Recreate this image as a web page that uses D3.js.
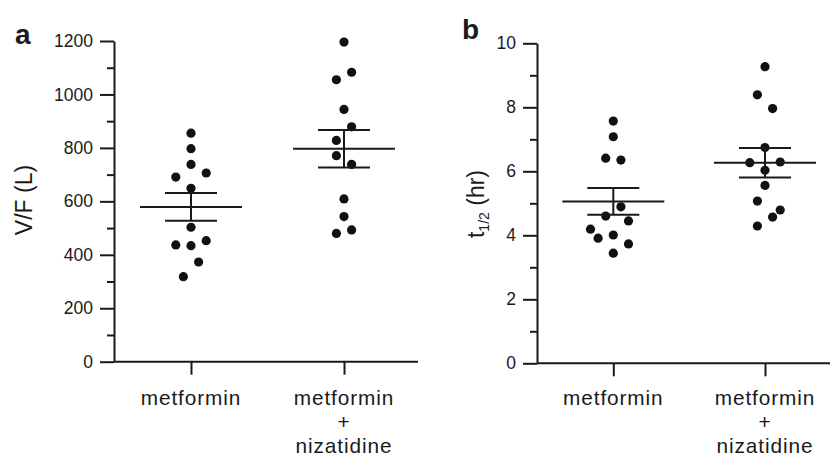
<!DOCTYPE html>
<meta charset="utf-8">
<script src="https://d3js.org/d3.v7.min.js"></script>
<style>
  body { margin: 0; background: #fff; }
  text { font-family: "Liberation Sans", Arial, sans-serif; fill: #1a1a1a; }
</style>
<div id="chart"></div>
<script>

// categories (each label is split over lines)
var categories = [["metformin"], ["metformin", "+", "nizatidine"]];

// panel a: V/F (L), individual subjects
var vfMetformin  = [855, 797, 738, 706, 691, 649, 503, 453, 437, 434, 373, 318];
var vfNizatidine = [1196, 1083, 1055, 944, 879, 828, 771, 738, 609, 543, 493, 480];
var vfMean = [579, 797];
var vfSem  = [52, 70];

// panel b: t1/2 (hr), individual subjects
var tMetformin  = [7.57, 7.08, 6.41, 6.35, 4.89, 4.60, 4.45, 4.19, 4.01, 3.91, 3.73, 3.44];
var tNizatidine = [9.27, 8.39, 7.96, 6.74, 6.29, 6.27, 6.03, 5.56, 5.07, 4.79, 4.57, 4.29];
var tMean = [5.06, 6.27];
var tSem  = [0.42, 0.46];

// dodge slot of each dot in the scatter (as in the figure)
var vfSlotsMet = [0, 0, 0, 2, -2, 0, 0, 2, -2, 0, 1, -1];
var vfSlotsNiz = [0, 1, -1, 0, 1, -1, -1, 1, 0, 0, 1, -1];
var tSlotsMet  = [0, 0, -1, 1, 1, -1, 2, -3, 0, -2, 2, 0];
var tSlotsNiz  = [0, -1, 1, 0, 2, -2, 0, 0, -1, 2, 1, -1];

var vfTicks = [0, 200, 400, 600, 800, 1000, 1200];
var vfMinor = [100, 300, 500, 700, 900, 1100];
var tTicks = [0, 2, 4, 6, 8, 10];
var tMinor = [1, 3, 5, 7, 9];

var W = 830, H = 458;
var svg = d3.select("#chart").append("svg")
    .attr("width", W).attr("height", H);

var slotStep = 7.6;

function panel(opt) {
  var g = svg.append("g");

  var y = d3.scaleLinear().domain(opt.domain).range([opt.y0, opt.y1]);
  var x = d3.scalePoint().domain([0, 1]).range(opt.xCats);

  // y axis, major ticks
  var ya = g.append("g")
      .attr("transform", "translate(" + opt.axisX + ",0)")
      .call(d3.axisLeft(y).tickValues(opt.ticks).tickFormat(d3.format("d"))
        .tickSize(14).tickPadding(7).tickSizeOuter(0));
  // y axis, minor ticks
  g.append("g")
      .attr("transform", "translate(" + opt.axisX + ",0)")
      .call(d3.axisLeft(y).tickValues(opt.minor).tickSize(7).tickFormat(""))
      .select(".domain").remove();

  // x axis
  var xa = g.append("g")
      .attr("transform", "translate(0," + opt.y0 + ")")
      .call(d3.axisBottom(x).tickSize(13).tickSizeOuter(0).tickFormat(""));
  xa.select(".domain").attr("d", "M" + opt.axisX + ",0H" + opt.xEnd);

  g.selectAll(".domain, .tick line")
      .attr("stroke", "#1a1a1a").attr("stroke-width", 2);
  ya.selectAll(".tick text")
      .style("font-size", "17.5px").attr("fill", "#1a1a1a");

  // category labels
  categories.forEach(function(lines, i) {
    lines.forEach(function(s, k) {
      g.append("text")
          .attr("text-anchor", "middle")
          .attr("x", x(i))
          .attr("y", opt.labelY + k * 24)
          .style("font-size", "20.8px")
          .style("letter-spacing", "0.9px")
          .text(s);
    });
  });

  // dots
  opt.series.forEach(function(vals, i) {
    g.append("g").selectAll("circle")
      .data(vals)
      .enter().append("circle")
        .attr("cx", function(d, k) { return x(i) + opt.slots[i][k] * slotStep; })
        .attr("cy", function(d) { return y(d); })
        .attr("r", 4.6)
        .attr("fill", "#111");
  });

  // mean and SEM
  opt.mean.forEach(function(m, i) {
    var cx = x(i), s = opt.sem[i];
    var eb = g.append("g").attr("stroke", "#1a1a1a").attr("stroke-width", 2);
    eb.append("line").attr("x1", cx - 51).attr("x2", cx + 51).attr("y1", y(m)).attr("y2", y(m));
    eb.append("line").attr("x1", cx - 26).attr("x2", cx + 26).attr("y1", y(m + s)).attr("y2", y(m + s));
    eb.append("line").attr("x1", cx - 26).attr("x2", cx + 26).attr("y1", y(m - s)).attr("y2", y(m - s));
    eb.append("line").attr("x1", cx).attr("x2", cx).attr("y1", y(m + s)).attr("y2", y(m - s));
  });

  // panel letter
  g.append("text")
      .attr("x", opt.letterX).attr("y", opt.letterY)
      .style("font-size", "28px").style("font-weight", "bold")
      .text(opt.letter);

  return g;
}

var ga = panel({
  domain: [0, 1200], ticks: vfTicks, minor: vfMinor,
  y0: 361.7, y1: 41, axisX: 114, xEnd: 418, xCats: [191, 344],
  labelY: 405, series: [vfMetformin, vfNizatidine], slots: [vfSlotsMet, vfSlotsNiz],
  mean: vfMean, sem: vfSem, letter: "a", letterX: 15, letterY: 44
});
ga.append("text")
    .attr("transform", "translate(32,200) rotate(-90)")
    .attr("text-anchor", "middle")
    .style("font-size", "23px")
    .text("V/F (L)");

var gb = panel({
  domain: [0, 10], ticks: tTicks, minor: tMinor,
  y0: 363.3, y1: 43.3, axisX: 537, xEnd: 830, xCats: [613.3, 765],
  labelY: 405, series: [tMetformin, tNizatidine], slots: [tSlotsMet, tSlotsNiz],
  mean: tMean, sem: tSem, letter: "b", letterX: 462, letterY: 39
});
var tl = gb.append("text")
    .attr("transform", "translate(484,204) rotate(-90)")
    .attr("text-anchor", "middle")
    .style("font-size", "23px");
tl.append("tspan").text("t");
tl.append("tspan").attr("dy", 5).style("font-size", "14px").text("1/2");
tl.append("tspan").attr("dy", -5).text(" (hr)");

</script>
